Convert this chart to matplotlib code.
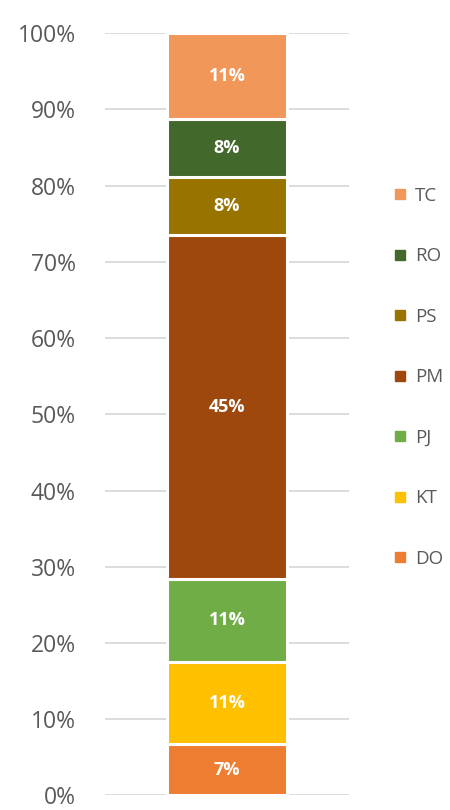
import matplotlib
matplotlib.use("Agg")
import matplotlib.pyplot as plt
from matplotlib.lines import Line2D
from matplotlib.ticker import PercentFormatter

plt.rcParams['font.family'] = ['Open Sans', 'DejaVu Sans']

categories = ["DO", "KT", "PJ", "PM", "PS", "RO", "TC"]
values = [6.7, 10.8, 10.9, 45.1, 7.7, 7.6, 11.2]
labels = ["7%", "11%", "11%", "45%", "8%", "8%", "11%"]
colors = ["#ED7D31", "#FFC000", "#70AD47", "#9E480E", "#997300", "#43682B", "#F1975A"]
yticks = [0, 10, 20, 30, 40, 50, 60, 70, 80, 90, 100]

fig = plt.figure(figsize=(4.5, 8.1), dpi=100)
ax = fig.add_axes([0.233, 0.018, 0.543, 0.941])

bottom = 0
for cat, v, lab, c in zip(categories, values, labels, colors):
    ax.bar(0, v, bottom=bottom, width=0.49, color=c, edgecolor="white",
           linewidth=2.2, zorder=3)
    ax.text(0, bottom + v / 2, lab, ha="center", va="center", color="white",
            fontsize=13, fontweight="bold", zorder=4)
    bottom += v

ax.set_xlim(-0.5, 0.5)
ax.set_ylim(0, 100)
ax.set_yticks(yticks)
ax.yaxis.set_major_formatter(PercentFormatter(decimals=0))
ax.grid(axis="y", color="#D9D9D9", linewidth=1.3, zorder=0)
ax.set_xticks([])
for s in ax.spines.values():
    s.set_visible(False)
ax.tick_params(axis="y", length=0, labelsize=16.5, labelcolor="#595959", pad=21)

handles = [Line2D([], [], marker="s", linestyle="none", color=c, markersize=6.5)
           for c in colors[::-1]]
fig.legend(handles, categories[::-1], loc="upper left",
           bbox_to_anchor=(0.86, 0.779), frameon=False, fontsize=13.5,
           labelcolor="#595959", handlelength=0.6, handletextpad=0.5,
           labelspacing=2.27, borderaxespad=0)

fig.savefig("out.png", dpi=100)
